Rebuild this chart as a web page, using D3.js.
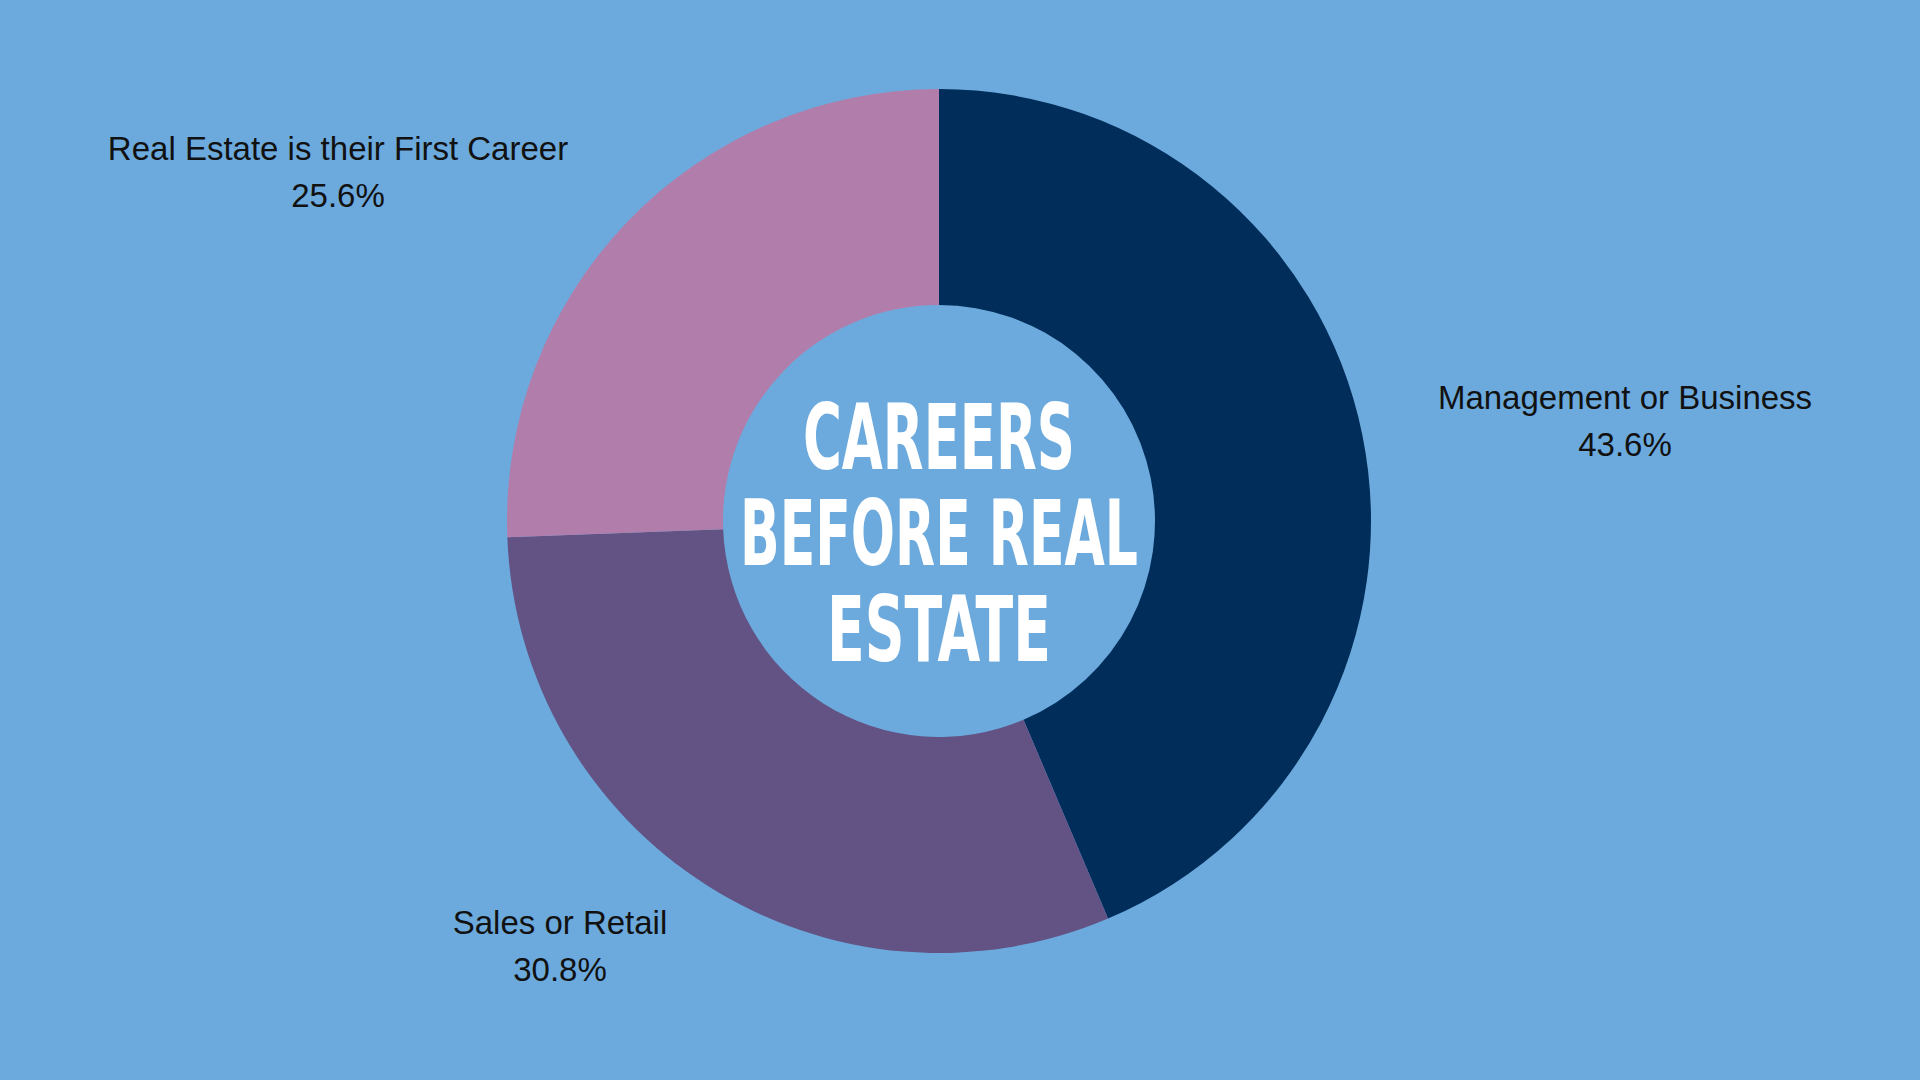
<!DOCTYPE html>
<html><head><meta charset="utf-8">
<script src="https://cdn.jsdelivr.net/npm/d3@7"></script>
<style>html,body{margin:0;padding:0;background:#6CAADD;}</style>
</head><body>
<svg id="c" width="1920" height="1080"></svg>
<script>
const categories = ["Management or Business", "Sales or Retail", "Real Estate is their First Career"];
const values = [43.6, 30.8, 25.6];
const colors = ["#002D5A", "#625384", "#B17EAB"];
const titleLines = ["CAREERS", "BEFORE REAL", "ESTATE"];

const svg = d3.select("#c");
svg.append("rect").attr("width",1920).attr("height",1080).attr("fill","#6CAADD");
const cx = 939, cy = 521, R = 432, r = 216;
const g = svg.append("g").attr("transform",`translate(${cx},${cy})`);
const pie = d3.pie().sort(null).value(d=>d)(values);
const arc = d3.arc().innerRadius(r).outerRadius(R);
g.selectAll("path").data(pie).join("path").attr("d",arc).attr("fill",(d,i)=>colors[i]);

const labelPos = [[1625,409],[560,934],[338,160]];
categories.forEach((c,i)=>{
  const t = svg.append("text").attr("x",labelPos[i][0]).attr("y",labelPos[i][1])
    .attr("text-anchor","middle").attr("font-family","Liberation Sans, Arial, sans-serif")
    .attr("font-size",33).attr("fill","#111");
  t.append("tspan").attr("x",labelPos[i][0]).text(c);
  t.append("tspan").attr("x",labelPos[i][0]).attr("dy",47).text(values[i].toFixed(1)+"%");
});

const widths = [272, 398, 224];
titleLines.forEach((l,i)=>{
  g.append("text").attr("x",0).attr("y",-52+i*96).attr("text-anchor","middle")
   .attr("font-family","Liberation Sans Narrow, DejaVu Sans Condensed, sans-serif")
   .attr("font-weight","bold").attr("font-size",90).attr("fill","#fff")
   .attr("textLength",widths[i]).attr("lengthAdjust","spacingAndGlyphs").text(l);
});
</script>
</body></html>
